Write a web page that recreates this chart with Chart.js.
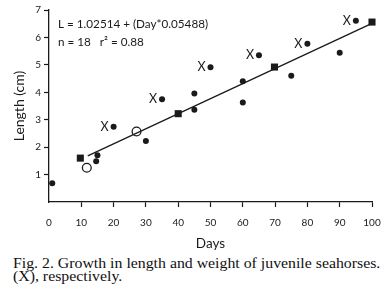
<!DOCTYPE html>
<html>
<head>
<meta charset="utf-8">
<script src="https://cdn.jsdelivr.net/npm/chart.js@4/dist/chart.umd.min.js"></script>
<style>
  html, body { margin: 0; padding: 0; background: #fff; }
  #wrap { position: relative; width: 384px; height: 297px; overflow: hidden; }
  #c { position: absolute; left: 0; top: 0; }
  #cap { position: absolute; left: 13px; top: 258px; font-family: "Liberation Serif", "Times New Roman", serif;
         font-size: 14px; line-height: 12.8px; color: #111; white-space: nowrap;
         transform: scaleX(1.13); transform-origin: 0 0; }
</style>
</head>
<body>
<div id="wrap">
  <canvas id="c" width="384" height="252"></canvas>
  <div id="cap">Fig. 2. Growth in length and weight of juvenile seahorses.<br>(X), respectively.</div>
</div>
<script>
// ---- data ----
const dotDays     = [1, 14.6, 15, 30, 45, 45, 60, 60, 75, 90];
const dotLength   = [0.68, 1.49, 1.70, 2.22, 3.96, 3.36, 4.40, 3.63, 4.60, 5.44];
const xDays       = [20, 35, 50, 65, 80, 95];
const xLength     = [2.74, 3.75, 4.91, 5.35, 5.77, 6.61];
const squareDays  = [9.7, 40, 69.8, 100];
const squareLength= [1.60, 3.22, 4.92, 6.56];
const openDays    = [11.7, 27.1];
const openLength  = [1.25, 2.57];
const fitDays     = [12, 100];
const fitLength   = [1.68, 6.51];
const xTicks      = [0, 10, 20, 30, 40, 50, 60, 70, 80, 90, 100];
const yTicks      = [1, 2, 3, 4, 5, 6, 7];
const eqLines     = ['L = 1.02514 + (Day*0.05488)', 'n = 18   r\u00B2 = 0.88'];
const eqAnchorDay = 2.8;
const eqAnchorLen = [6.47, 5.84];
const xAxisTitle  = 'Days';
const yAxisTitle  = 'Length (cm)';

const pts = (xs, ys) => xs.map((x, i) => ({x, y: ys[i]}));
const FONT = 'Lato, "Open Sans", sans-serif';
const INK = '#1a1a1a';

const markPlugin = {
  id: 'marks',
  afterDatasetsDraw(chart) {
    const ctx = chart.ctx;
    ctx.save();
    ctx.fillStyle = INK;
    // X letters beside the flagged points
    const meta = chart.getDatasetMeta(1);
    ctx.font = '12.5px ' + FONT;
    ctx.textAlign = 'center';
    ctx.textBaseline = 'middle';
    meta.data.forEach(el => ctx.fillText('X', el.x - 9, el.y));
    // equation text
    const xs = chart.scales.x, ys = chart.scales.y;
    ctx.font = '11.7px ' + FONT;
    ctx.textAlign = 'left';
    eqLines.forEach((t, i) => ctx.fillText(t, xs.getPixelForValue(eqAnchorDay), ys.getPixelForValue(eqAnchorLen[i])));
    ctx.restore();
  }
};

new Chart(document.getElementById('c'), {
  type: 'scatter',
  data: {
    datasets: [
      { type: 'line', data: pts(fitDays, fitLength), borderColor: INK, borderWidth: 1.3, pointRadius: 0, fill: false, order: 5, clip: false },
      { data: pts(xDays, xLength), pointStyle: 'circle', pointRadius: 3, backgroundColor: INK, borderWidth: 0, order: 1, clip: false },
      { data: pts(dotDays, dotLength), pointStyle: 'circle', pointRadius: 3, backgroundColor: INK, borderWidth: 0, order: 1, clip: false },
      { data: pts(squareDays, squareLength), pointStyle: 'rect', pointRadius: 5, backgroundColor: INK, borderWidth: 0, order: 1, clip: false },
      { data: pts(openDays, openLength), pointStyle: 'circle', pointRadius: 4.4, backgroundColor: 'rgba(0,0,0,0)', borderColor: INK, borderWidth: 1.3, order: 1, clip: false }
    ]
  },
  options: {
    responsive: false,
    animation: false,
    layout: { padding: { left: 0, right: 12, top: 10, bottom: 0 } },
    plugins: { legend: { display: false }, tooltip: { enabled: false } },
    scales: {
      x: {
        type: 'linear', min: 0, max: 100,
        afterBuildTicks: s => { s.ticks = xTicks.map(v => ({value: v})); },
        afterFit: s => { s.height = 50; s.paddingRight = 0; s.paddingLeft = 0; },
        ticks: { font: { family: FONT, size: 10 }, color: INK, padding: 10 },
        grid: { drawOnChartArea: false, drawTicks: true, tickLength: 5, tickWidth: 1.2,
                tickColor: c => (c.tick && c.tick.value === 0) ? 'rgba(0,0,0,0)' : INK },
        border: { display: true, color: INK, width: 1.3 },
        title: { display: true, text: xAxisTitle, font: { family: FONT, size: 13.5 }, color: INK, padding: { top: 0, bottom: 0 } }
      },
      y: {
        type: 'linear', min: 0, max: 7,
        afterBuildTicks: s => { s.ticks = [0].concat(yTicks).map(v => ({value: v})); },
        afterFit: s => { s.width = 49; s.paddingTop = 0; s.paddingBottom = 0; },
        ticks: { font: { family: FONT, size: 10 }, color: INK, padding: 3,
                 callback: v => (v === 0 ? '' : String(v)) },
        grid: { drawOnChartArea: false, drawTicks: true, tickLength: 5, tickWidth: 1.2,
                tickColor: c => (c.tick && c.tick.value === 0) ? 'rgba(0,0,0,0)' : INK },
        border: { display: true, color: INK, width: 1.3 },
        title: { display: true, text: yAxisTitle, font: { family: FONT, size: 14 }, color: INK, padding: { top: 11, bottom: 0 } }
      }
    }
  },
  plugins: [markPlugin]
});
</script>
</body>
</html>
